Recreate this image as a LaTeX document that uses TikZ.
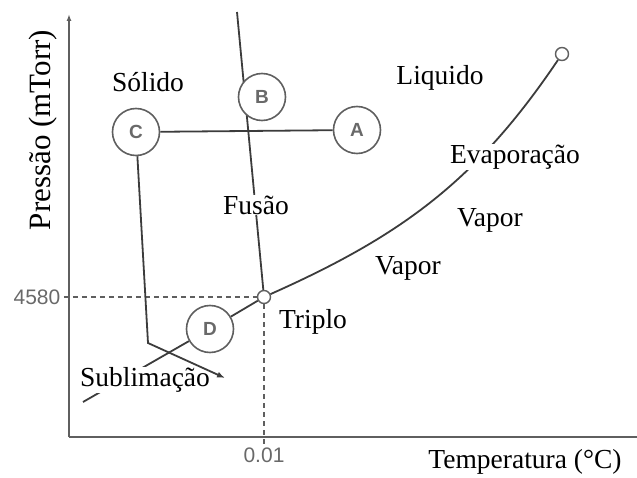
\documentclass[tikz,border=0pt]{standalone}
\usepackage{fontspec}
\setmainfont{Liberation Serif}
\setsansfont{Liberation Sans}
\usetikzlibrary{arrows.meta, positioning, calc}
\definecolor{linegray}{RGB}{60, 60, 60}
\definecolor{axisgray}{RGB}{95, 95, 95}
\definecolor{lettergray}{RGB}{105, 105, 105}

\begin{document}
\begin{tikzpicture}[
  x=1pt, y=-1pt,
  curve/.style={draw=linegray, line width=1.8pt},
  state/.style={circle, draw=axisgray, fill=white, line width=1.6pt, minimum size=47pt, inner sep=0pt, font=\sffamily\bfseries\fontsize{19}{19}\selectfont, text=lettergray},
  point/.style={circle, draw=axisgray, fill=white, line width=1.4pt, minimum size=13pt, inner sep=0pt},
  region/.style={font=\fontsize{27.5}{30}\selectfont, fill=white, inner sep=1pt},
  tick/.style={font=\sffamily\fontsize{21}{21}\selectfont, text=lettergray},
  guide/.style={draw=axisgray, line width=1.2pt, dash pattern=on 5pt off 4pt},
]
\useasboundingbox (0,0) rectangle (637,478);

% axes
\coordinate (orig) at (69,437);
\draw[axisgray, line width=2.2pt] (orig) -- (637,437);
\draw[axisgray, line width=2.2pt, -{Latex[length=7pt, width=5pt]}] (orig) -- (69,14);
\node[font=\fontsize{31}{32}\selectfont, rotate=90] (ylab) at (43,130) {Pressão (mTorr)};
\node[font=\fontsize{27.5}{30}\selectfont] (xlab) at (525,462) {Temperatura (°C)};

% triple and critical points
\node[point] (tp) at (264,297) {};
\node[point] (cp) at (562,54) {};
\node[tick] (p4580) at (37,297) {4580};
\node[tick] (t001) at (264,455) {0.01};
\draw[guide] (p4580.east) -- (tp);
\draw[guide] (tp) -- (t001.north);

% phase boundaries
\coordinate (ftop) at (237,12);
\coordinate (subend) at (83,402);
\draw[curve] (ftop) -- (tp);
\draw[curve] (tp) to[out=24, in=236] (cp);

% states
\node[state] (A) at (357,130) {A};
\node[state] (B) at (262,97) {B};
\node[state] (C) at (136,132) {C};
\node[state] (D) at (210,329) {D};
\draw[curve] (C) -- (A);
\draw[curve] (tp) -- (D);
\draw[curve] (D) -- (subend);

% region and curve labels
\node[region] (solido) at (148,82) {Sólido};
\node[region] (liquido) at (440,78) {Liquido};
\node[region] (evap) at (515,157) {Evaporação};
\node[region] (vap1) at (490,220) {Vapor};
\node[region] (vap2) at (408,268) {Vapor};
\node[region] (fusao) at (256,205) {Fusão};
\node[region] (triplo) at (313,322) {Triplo};
\node[region] (sublim) at (145,380) {Sublimação};

% path from C
\coordinate (ccorner) at (148,343);
\coordinate (cend) at (225,378);
\draw[curve, -{Latex[length=8pt, width=6pt]}] (C) -- (ccorner) -- (cend);
\end{tikzpicture}
\end{document}
